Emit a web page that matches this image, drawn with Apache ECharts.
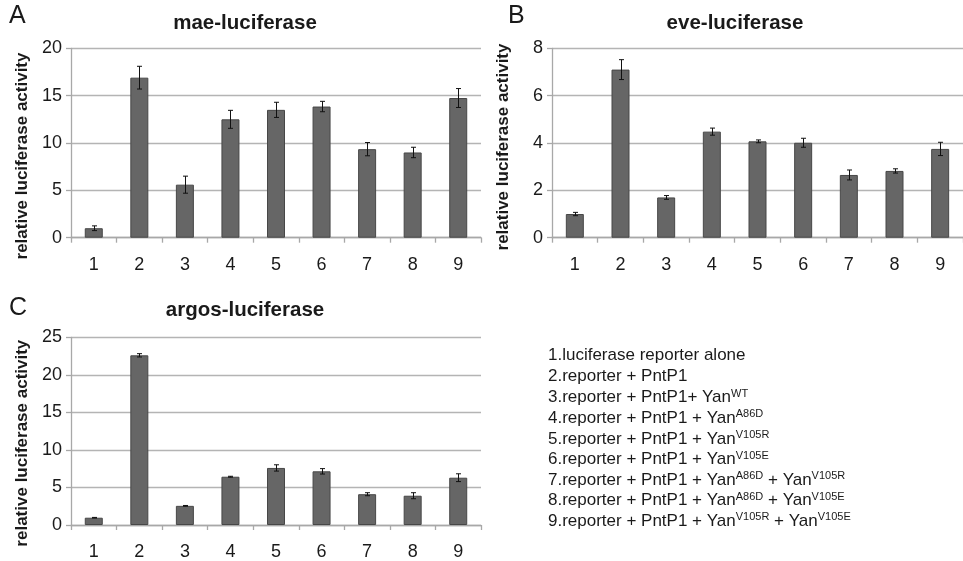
<!DOCTYPE html>
<html>
<head>
<meta charset="utf-8">
<script src="https://cdn.jsdelivr.net/npm/echarts@6/dist/echarts.min.js"></script>
<style>html,body{margin:0;padding:0;background:#fff;}#c{width:963px;height:561px;}</style>
</head>
<body>
<div id="c"></div>
<script>
var categories = ['1','2','3','4','5','6','7','8','9'];
var maeMean = [1.0, 16.9, 5.6, 12.5, 13.5, 13.85, 9.35, 9.0, 14.75];
var maeErr  = [0.25, 1.2, 0.9, 0.95, 0.8, 0.55, 0.7, 0.55, 1.0];
var eveMean = [1.0, 7.1, 1.7, 4.48, 4.07, 4.01, 2.65, 2.82, 3.75];
var eveErr  = [0.07, 0.42, 0.08, 0.15, 0.06, 0.19, 0.21, 0.09, 0.28];
var argosMean = [0.97, 22.6, 2.55, 6.43, 7.6, 7.15, 4.1, 3.9, 6.3];
var argosErr  = [0.04, 0.22, 0.05, 0.06, 0.42, 0.36, 0.2, 0.4, 0.52];
var titles = ['mae-luciferase', 'eve-luciferase', 'argos-luciferase'];
var panelLetters = ['A', 'B', 'C'];
var yMax = [20, 8, 25];
var yStep = [5, 2, 5];
var yName = 'relative luciferase activity';
var legendItems = [
  [['1.luciferase reporter alone', '']],
  [['2.reporter + PntP1', '']],
  [['3.reporter + PntP1+ Yan', ''], ['WT', 's']],
  [['4.reporter + PntP1 + Yan', ''], ['A86D', 's']],
  [['5.reporter + PntP1 + Yan', ''], ['V105R', 's']],
  [['6.reporter + PntP1 + Yan', ''], ['V105E', 's']],
  [['7.reporter + PntP1 + Yan', ''], ['A86D', 's'], [' + Yan', ''], ['V105R', 's']],
  [['8.reporter + PntP1 + Yan', ''], ['A86D', 's'], [' + Yan', ''], ['V105E', 's']],
  [['9.reporter + PntP1 + Yan', ''], ['V105R', 's'], [' + Yan', ''], ['V105E', 's']]
];

var FONT = 'Arial, "Liberation Sans", sans-serif';
var means = [maeMean, eveMean, argosMean];
var errs = [maeErr, eveErr, argosErr];
var grids = [
  {left: 71, top: 48.3, width: 410, height: 189.4},
  {left: 552, top: 48.3, width: 419, height: 189.4},
  {left: 71, top: 337.3, width: 410, height: 189.4}
];
var namePad = [[0, 26, 0, 0], [0, 8, 0, 0], [0, 24, 0, 0]];

var chart = echarts.init(document.getElementById('c'), null, {renderer: 'canvas'});
var xAxis = [], yAxis = [], series = [], graphic = [];
for (var p = 0; p < 3; p++) {
  xAxis.push({
    type: 'category', gridIndex: p, data: categories,
    axisLine: {show: true, lineStyle: {color: '#a8a8a8', width: 1.3}},
    axisTick: {show: true, length: 5, lineStyle: {color: '#a8a8a8', width: 1.3}},
    axisLabel: {margin: 18, fontSize: 18, color: '#1a1a1a', fontFamily: FONT},
    splitLine: {show: false}
  });
  yAxis.push({
    type: 'value', gridIndex: p, min: 0, max: yMax[p], interval: yStep[p],
    name: yName, nameLocation: 'middle', nameRotate: 90, nameGap: 40,
    nameTextStyle: {fontSize: 17, fontWeight: 'bold', color: '#1a1a1a', fontFamily: FONT, padding: namePad[p]},
    axisLine: {show: true, lineStyle: {color: '#a8a8a8', width: 1.3}},
    axisTick: {show: true, length: 5, lineStyle: {color: '#a8a8a8', width: 1.3}},
    axisLabel: {margin: 9, fontSize: 18, color: '#1a1a1a', fontFamily: FONT},
    splitLine: {show: true, lineStyle: {color: '#b4b4b4', width: 1.3}}
  });
  series.push({
    type: 'bar', xAxisIndex: p, yAxisIndex: p, data: means[p], barWidth: 18,
    itemStyle: {color: '#666666', borderColor: '#474747', borderWidth: 1},
    silent: true, animation: false
  });
  (function (pi) {
    series.push({
      type: 'custom', xAxisIndex: pi, yAxisIndex: pi, animation: false, silent: true,
      data: means[pi].map(function (m, i) { return [i, m - errs[pi][i], m + errs[pi][i]]; }),
      renderItem: function (params, api) {
        var lo = api.coord([api.value(0), api.value(1)]);
        var hi = api.coord([api.value(0), api.value(2)]);
        var x = Math.round(lo[0]) + 0.5;
        var cap = 2.5;
        var st = {stroke: '#111', lineWidth: 1};
        return {type: 'group', children: [
          {type: 'line', shape: {x1: x, y1: hi[1], x2: x, y2: lo[1]}, style: st},
          {type: 'line', shape: {x1: x - cap, y1: hi[1], x2: x + cap, y2: hi[1]}, style: st},
          {type: 'line', shape: {x1: x - cap, y1: lo[1], x2: x + cap, y2: lo[1]}, style: st}
        ]};
      },
      z: 5
    });
  })(p);
}

var titleOpts = [
  {text: titles[0], left: 245, top: 13, textAlign: 'center'},
  {text: titles[1], left: 735, top: 13, textAlign: 'center'},
  {text: titles[2], left: 245, top: 300, textAlign: 'center'},
  {text: panelLetters[0], left: 9, top: 4},
  {text: panelLetters[1], left: 508, top: 4},
  {text: panelLetters[2], left: 9, top: 296}
];
var title = titleOpts.map(function (t, i) {
  return {
    text: t.text, left: t.left, top: t.top, textAlign: t.textAlign || 'left', padding: 0,
    textStyle: i < 3
      ? {fontSize: 20.5, fontWeight: 'bold', color: '#1a1a1a', fontFamily: FONT}
      : {fontSize: 25, fontWeight: 'normal', color: '#1a1a1a', fontFamily: FONT}
  };
});

legendItems.forEach(function (segs, i) {
  var txt = segs.map(function (s) { return '{' + (s[1] || 'n') + '|' + s[0] + '}'; }).join('');
  graphic.push({
    type: 'text', left: 548, top: 347 + i * 20.6, silent: true,
    style: {
      text: txt, fill: '#1a1a1a', font: '17px ' + FONT,
      rich: {
        n: {fontSize: 17, fontFamily: FONT, fill: '#1a1a1a', lineHeight: 20, verticalAlign: 'bottom'},
        s: {fontSize: 11, fontFamily: FONT, fill: '#1a1a1a', lineHeight: 20, verticalAlign: 'bottom', padding: [0, 0, 7, 0]}
      }
    }
  });
});

chart.setOption({
  animation: false,
  backgroundColor: '#ffffff',
  title: title,
  grid: grids.map(function (g) { return Object.assign({containLabel: false}, g); }),
  xAxis: xAxis, yAxis: yAxis, series: series, graphic: graphic
});
</script>
</body>
</html>
